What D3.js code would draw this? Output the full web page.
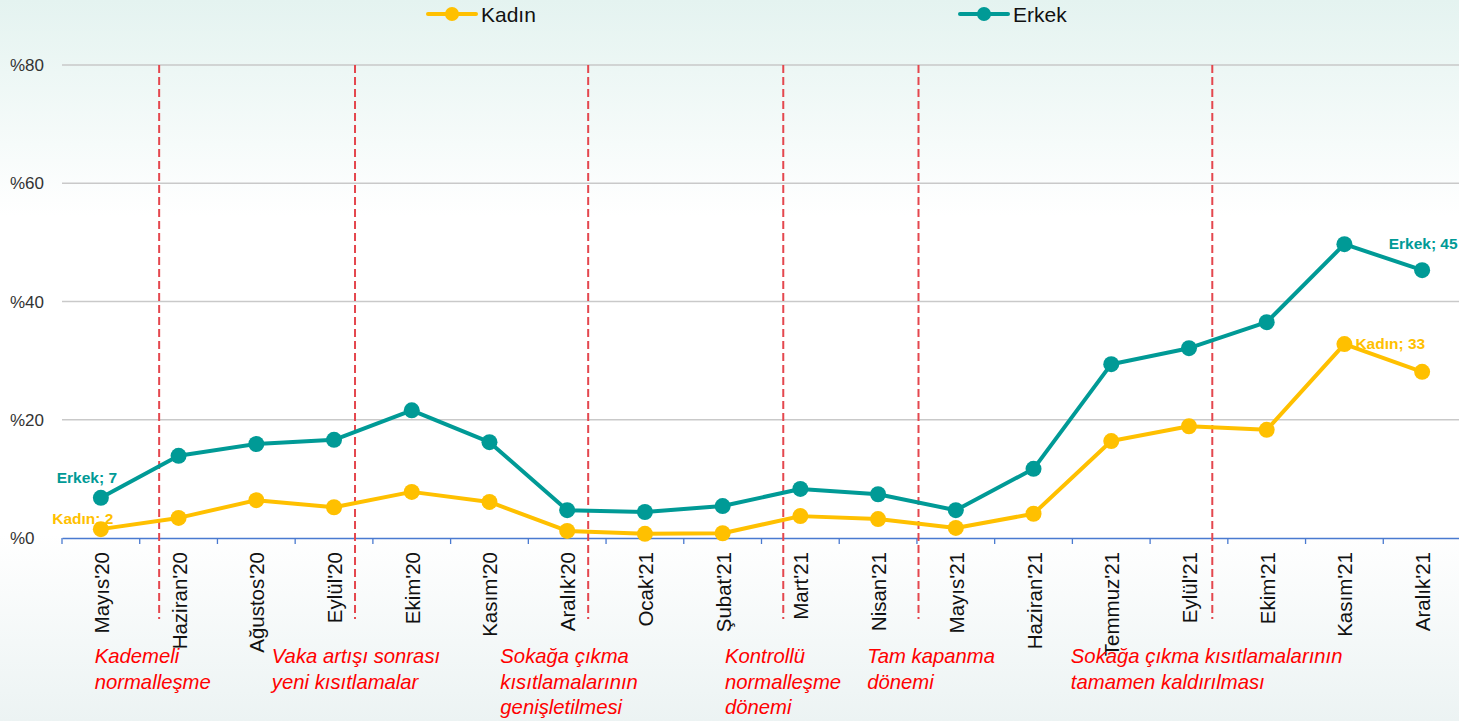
<!DOCTYPE html>
<html><head><meta charset="utf-8">
<script src="https://cdn.jsdelivr.net/npm/d3@7"></script>
<style>html,body{margin:0;padding:0;overflow:hidden;}</style>
</head><body>
<svg id="chart" width="1459" height="721"></svg>
<script>
const categories = ["Mayıs'20","Haziran'20","Ağustos'20","Eylül'20","Ekim'20","Kasım'20","Aralık'20","Ocak'21","Şubat'21","Mart'21","Nisan'21","Mayıs'21","Haziran'21","Temmuz'21","Eylül'21","Ekim'21","Kasım'21","Aralık'21"];
const kadin = [1.5,3.4,6.4,5.2,7.8,6.1,1.2,0.7,0.8,3.7,3.2,1.7,4.1,16.4,18.9,18.3,32.8,28.1];
const erkek = [6.8,13.9,15.9,16.6,21.6,16.2,4.7,4.4,5.4,8.3,7.4,4.7,11.7,29.4,32.1,36.5,49.7,45.3];
const yTicks = [0,20,40,60,80];
const seriesNames = ["Kadın","Erkek"];
// dividers placed at fractional category positions
const dividers = [0.75, 3.27, 6.27, 8.78, 10.52, 14.3];
const annotations = [
  {at:0.42, lines:["Kademeli","normalleşme"]},
  {at:2.7, lines:["Vaka artışı sonrası","yeni kısıtlamalar"]},
  {at:5.64, lines:["Sokağa çıkma","kısıtlamalarının","genişletilmesi"]},
  {at:8.53, lines:["Kontrollü","normalleşme","dönemi"]},
  {at:10.36, lines:["Tam kapanma","dönemi"]},
  {at:12.98, lines:["Sokağa çıkma kısıtlamalarının","tamamen kaldırılması"]}
];

const svg = d3.select("#chart");
const W = 1459, H = 721;
const defs = svg.append("defs");
const grad = defs.append("linearGradient").attr("id","bg").attr("x1",0).attr("y1",0).attr("x2",0).attr("y2",1);
[[0,"#e4f3f0"],[0.3,"#ffffff"],[0.74,"#ffffff"],[1,"#ecf3f3"]].forEach(s=>grad.append("stop").attr("offset",s[0]).attr("stop-color",s[1]));
svg.append("rect").attr("width",W).attr("height",H).attr("fill","url(#bg)");

const x0 = 62, x1 = 1461;
const x = d3.scaleBand().domain(categories).range([x0,x1]).padding(0);
const xc = i => x(categories[i]) + x.bandwidth()/2;
const xpos = f => x0 + f * x.bandwidth() + x.bandwidth()/2;
const y = d3.scaleLinear().domain([0,80]).range([538,65]);

const colK = "#ffc000", colE = "#009a96";

// gridlines
svg.append("g").selectAll("line").data(yTicks.filter(d=>d>0)).join("line")
  .attr("x1",x0).attr("x2",W).attr("y1",d=>y(d)).attr("y2",d=>y(d))
  .attr("stroke","#c9c9c9").attr("stroke-width",1.3);

// y labels
svg.append("g").selectAll("text").data(yTicks).join("text")
  .attr("x",10).attr("y",d=>y(d)+6).text(d=>"%"+d)
  .attr("font-family","Liberation Sans, Arial, sans-serif").attr("font-size",17).attr("fill","#333");

// x axis
const xAxis = d3.axisBottom(x).tickSize(0).tickFormat("");
const ax = svg.append("g").attr("transform","translate(0,538)").call(xAxis);
ax.select(".domain").attr("stroke","#4a7ad0").attr("stroke-width",1.5);
svg.append("g").selectAll("line").data(d3.range(categories.length+1)).join("line")
  .attr("x1",i=>x0+i*x.bandwidth()).attr("x2",i=>x0+i*x.bandwidth())
  .attr("y1",538).attr("y2",544).attr("stroke","#4a7ad0").attr("stroke-width",1.3);
svg.append("g").selectAll("text").data(categories).join("text")
  .attr("transform",(d,i)=>`translate(${xc(i)+8},552) rotate(-90)`)
  .attr("text-anchor","end").text(d=>d)
  .attr("font-family","Liberation Sans, Arial, sans-serif").attr("font-size",20.5).attr("fill","#111");

// dividers
svg.append("g").selectAll("line").data(dividers).join("line")
  .attr("x1",d=>xpos(d)).attr("x2",d=>xpos(d)).attr("y1",65).attr("y2",619)
  .attr("stroke","#e4474e").attr("stroke-width",2).attr("stroke-dasharray","8,4");

// annotations
const ag = svg.append("g");
annotations.forEach(a=>{
  const ax0 = xpos(a.at)-x.bandwidth()/2;
  const t = ag.append("text").attr("x",ax0).attr("y",663)
    .attr("font-family","Liberation Sans Narrow, Arial Narrow, Liberation Sans, sans-serif")
    .attr("font-style","italic").attr("font-size",20.3).attr("fill","#ff0000");
  a.lines.forEach((l,k)=>t.append("tspan").attr("x",ax0).attr("dy",k===0?0:25.5).text(l));
});

// lines
const line = d3.line().x((d,i)=>xc(i)).y(d=>y(d));
[[erkek,colE],[kadin,colK]].forEach(([data,c])=>{
  svg.append("path").datum(data).attr("d",line).attr("fill","none").attr("stroke",c).attr("stroke-width",4).attr("stroke-linejoin","round");
  svg.append("g").selectAll("circle").data(data).join("circle")
    .attr("cx",(d,i)=>xc(i)).attr("cy",d=>y(d)).attr("r",8).attr("fill",c);
});

// data labels
const lbl = (txt,xx,yy,c,anchor)=>svg.append("text").attr("x",xx).attr("y",yy).text(txt)
  .attr("font-family","Liberation Sans, Arial, sans-serif").attr("font-weight","bold").attr("font-size",15.5)
  .attr("fill",c).attr("text-anchor",anchor||"middle");
const n = categories.length-1;
lbl("Erkek; "+Math.round(erkek[0]), xc(0)-14, y(erkek[0])-15, colE);
lbl("Kadın; "+Math.round(kadin[0]), xc(0)-18, y(kadin[0])-5, colK);
lbl("Erkek; "+Math.round(erkek[n]), xc(n)+1, y(erkek[n])-21, colE);
lbl("Kadın; "+Math.round(kadin[n-1]), xc(n-1)+11, y(kadin[n-1])+5, colK, "start");

// legend
const lg = svg.append("g");
[[seriesNames[0],colK,428],[seriesNames[1],colE,960]].forEach(([name,c,lx])=>{
  lg.append("line").attr("x1",lx).attr("x2",lx+48).attr("y1",14).attr("y2",14).attr("stroke",c).attr("stroke-width",4).attr("stroke-linecap","round");
  lg.append("circle").attr("cx",lx+24).attr("cy",14).attr("r",7).attr("fill",c);
  lg.append("text").attr("x",lx+53).attr("y",22).text(name)
    .attr("font-family","Liberation Sans, Arial, sans-serif").attr("font-size",21).attr("fill","#111");
});
</script>
</body></html>
